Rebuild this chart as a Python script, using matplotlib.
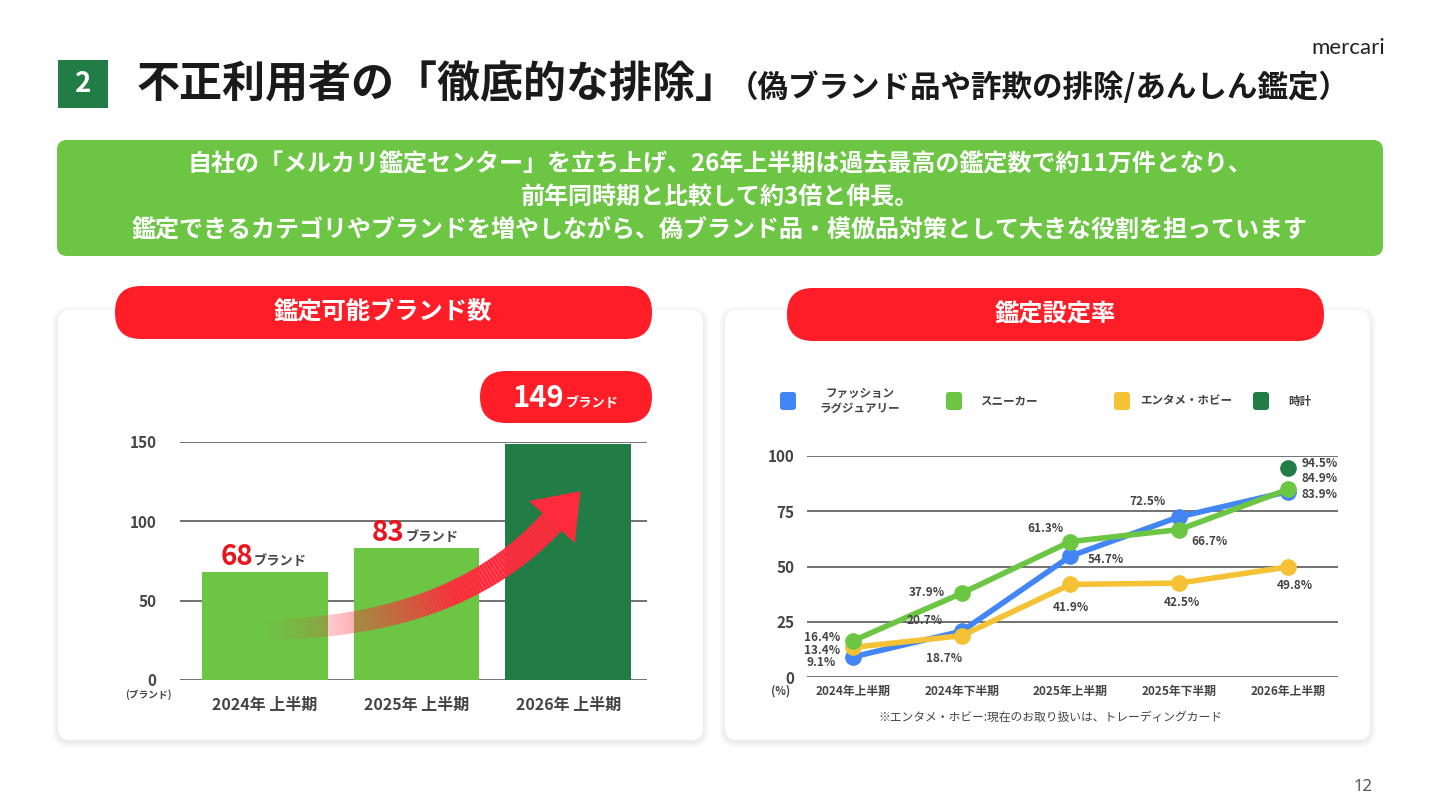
import numpy as np
import matplotlib
matplotlib.use('Agg')
import matplotlib.pyplot as plt
from matplotlib.patches import FancyBboxPatch, Polygon
from matplotlib.collections import PolyCollection

plt.rcParams['font.family'] = ['Noto Sans CJK JP', 'DejaVu Sans']

# ---- data ----
bar_periods = ['2024年 上半期', '2025年 上半期', '2026年 上半期']
brand_counts = [68, 83, 149]
bar_ticks = [0, 50, 100, 150]

line_periods = ['2024年上半期', '2024年下半期', '2025年上半期', '2025年下半期', '2026年上半期']
series_names = ['ファッション\nラグジュアリー', 'スニーカー', 'エンタメ・ホビー', '時計']
fashion = [9.1, 20.7, 54.7, 72.5, 83.9]
sneaker = [16.4, 37.9, 61.3, 66.7, 84.9]
hobby = [13.4, 18.7, 41.9, 42.5, 49.8]
watch = [np.nan, np.nan, np.nan, np.nan, 94.5]
line_ticks = [0, 25, 50, 75, 100]

# colours
GREEN = '#6CC644'
DKGREEN = '#217C45'
RED = '#FF1E28'
BLUE = '#4285F4'
YELLOW = '#F4C234'
TXT = '#444444'

fig = plt.figure(figsize=(14.4, 8.1), dpi=100)
bg = fig.add_axes([0, 0, 1, 1])
bg.set_xlim(0, 1440)
bg.set_ylim(810, 0)
bg.axis('off')


def rbox(x0, y0, x1, y1, r, color, alpha=1.0, z=1):
    p = FancyBboxPatch((x0, y0), x1 - x0, y1 - y0,
                       boxstyle=f"round,pad=0,rounding_size={r}",
                       fc=color, ec='none', alpha=alpha, zorder=z)
    bg.add_patch(p)


# header
bg.add_patch(plt.Rectangle((58, 60), 50, 48, fc=DKGREEN, ec='none'))
bg.text(83, 84, '2', color='white', fontsize=20, fontweight='bold', ha='center', va='center')
bg.text(137, 84, '不正利用者の「徹底的な排除」', fontsize=31, fontweight='bold',
        color='#1a1a1a', ha='left', va='center')
bg.text(728, 88, '（偽ブランド品や詐欺の排除/あんしん鑑定）', fontsize=22, fontweight='bold',
        color='#1a1a1a', ha='left', va='center')
bg.text(1385, 48, 'mercari', fontsize=16, color='#222222', ha='right', va='center',
        family=['Lato', 'DejaVu Sans'])

# summary box
rbox(57, 140, 1383, 256, 10, GREEN)
summary = ['自社の「メルカリ鑑定センター」を立ち上げ、26年上半期は過去最高の鑑定数で約11万件となり、',
           '前年同時期と比較して約3倍と伸長。',
           '鑑定できるカテゴリやブランドを増やしながら、偽ブランド品・模倣品対策として大きな役割を担っています']
for i, line in enumerate(summary):
    bg.text(720, 164 + 33 * i, line, fontsize=17.3, fontweight='bold', color='white',
            ha='center', va='center')

# cards with soft shadow
for (cx0, cx1) in [(58, 703), (725, 1370)]:
    for k in range(1, 7):
        rbox(cx0 - k, 310 - k + 2, cx1 + k, 740 + k + 2, 12 + k, 'black', alpha=0.012, z=1)
    rbox(cx0, 310, cx1, 740, 12, 'white', z=2)

# red pill headers
rbox(115, 286, 652, 339, 26, RED, z=3)
bg.text(383, 312, '鑑定可能ブランド数', fontsize=17.5, fontweight='bold', color='white',
        ha='center', va='center', zorder=4)
rbox(787, 288, 1324, 341, 26, RED, z=3)
bg.text(1055, 315, '鑑定設定率', fontsize=17.5, fontweight='bold', color='white',
        ha='center', va='center', zorder=4)

# ---- bar chart ----
ax1 = fig.add_axes([180 / 1440, 1 - 680 / 810, (647 - 180) / 1440, (680 - 442) / 810])
ax1.set_facecolor('none')
x1 = np.arange(len(bar_periods))
bar_colors = [GREEN, GREEN, DKGREEN]
ax1.bar(x1, brand_counts, width=0.83, color=bar_colors, zorder=3)
ax1.set_yticks(bar_ticks)
ax1.set_yticklabels([str(t) for t in bar_ticks], fontsize=11, fontweight='bold', color=TXT)
ax1.set_xticks(x1)
ax1.set_xticklabels(bar_periods, fontsize=11.5, fontweight='bold', color=TXT)
ax1.tick_params(axis='y', length=0, pad=17)
ax1.tick_params(axis='x', length=0, pad=12)
ax1.yaxis.grid(True, color='#666666', lw=1.3)
ax1.set_axisbelow(True)
for s in ax1.spines.values():
    s.set_visible(False)

for i in range(2):
    ax1.annotate(str(brand_counts[i]), xy=(x1[i], brand_counts[i]), xytext=(-12, 7),
                 textcoords='offset pixels', ha='right', va='baseline',
                 fontsize=20, fontweight='bold', color='#E8141E', zorder=6)
    ax1.annotate('ブランド', xy=(x1[i], brand_counts[i]), xytext=(-11, 7),
                 textcoords='offset pixels', ha='left', va='baseline',
                 fontsize=9.5, fontweight='bold', color=TXT, zorder=6)

# highlight pill for the last value
rbox(480, 371, 652, 423, 26, RED, z=3)
bg.text(564, 407, str(brand_counts[2]), fontsize=21, fontweight='bold', color='white',
        ha='right', va='baseline', zorder=4)
bg.text(566, 407, 'ブランド', fontsize=9.5, fontweight='bold', color='white',
        ha='left', va='baseline', zorder=4)
bg.text(148, 695, '(ブランド)', fontsize=7, fontweight='bold', color=TXT, ha='center', va='center')

# gradient growth arrow (pixel coordinates of the figure)
P = np.array([[262, 630], [380, 628], [480, 600], [552, 522]], dtype=float)
t = np.linspace(0, 1, 90)[:, None]
pts = ((1 - t) ** 3 * P[0] + 3 * (1 - t) ** 2 * t * P[1] + 3 * (1 - t) * t ** 2 * P[2] + t ** 3 * P[3])
der = (3 * (1 - t) ** 2 * (P[1] - P[0]) + 6 * (1 - t) * t * (P[2] - P[1]) + 3 * t ** 2 * (P[3] - P[2]))
nrm = np.column_stack([-der[:, 1], der[:, 0]])
nrm /= np.linalg.norm(nrm, axis=1)[:, None]
w = (10 + 3 * t)
L = pts + nrm * w
R = pts - nrm * w
polys = [[L[i], L[i + 1], R[i + 1], R[i]] for i in range(len(pts) - 1)]
alph = np.clip(t[:-1, 0] / 0.6, 0, 1) ** 1.2
cols = [(1.0, 0.17, 0.24, a) for a in alph]
pc = PolyCollection(polys, facecolors=cols, edgecolors='none', transform=bg.transData,
                    clip_on=False, zorder=5)
ax1.add_collection(pc, autolim=False)
d = der[-1] / np.linalg.norm(der[-1])
n_end = nrm[-1]
base = pts[-1]
tip = base + d * 42
head = Polygon([tip, base + n_end * 31, base - n_end * 31], closed=True, fc=(1.0, 0.17, 0.24),
               ec='none', transform=bg.transData, clip_on=False, zorder=5)
ax1.add_patch(head)
ax1.set_xlim(-0.56, 2.52)
ax1.set_ylim(0, 150)

# ---- line chart ----
ax2 = fig.add_axes([807 / 1440, 1 - 677 / 810, (1338 - 807) / 1440, (677 - 456) / 810])
ax2.set_facecolor('none')
x2 = np.arange(len(line_periods))
series = [fashion, hobby, sneaker, watch]
s_colors = [BLUE, YELLOW, GREEN, DKGREEN]
for vals, c in zip(series, s_colors):
    ax2.plot(x2, vals, color=c, lw=4, marker='o', markersize=11, clip_on=False, zorder=3,
             solid_capstyle='round')
ax2.set_xlim(-0.423, 4.46)
ax2.set_ylim(0, 100)
ax2.set_yticks(line_ticks)
ax2.set_yticklabels([str(t) for t in line_ticks], fontsize=11, fontweight='bold', color=TXT)
ax2.set_xticks(x2)
ax2.set_xticklabels(line_periods, fontsize=8.5, fontweight='bold', color=TXT)
ax2.tick_params(axis='y', length=0, pad=9)
ax2.tick_params(axis='x', length=0, pad=6)
ax2.yaxis.grid(True, color='#666666', lw=1.3)
ax2.set_axisbelow(True)
for s in ax2.spines.values():
    s.set_visible(False)

# value labels: (series, index, dx, dy, ha) offsets in pixels
label_layout = [
    (sneaker, 0, -13, 3, 'right'), (hobby, 0, -13, -3, 'right'), (fashion, 0, -17, -6, 'right'),
    (sneaker, 1, -17, 1, 'right'), (fashion, 1, -19, 11, 'right'), (hobby, 1, -18, -23, 'center'),
    (sneaker, 2, -25, 13, 'center'), (fashion, 2, 35, -3, 'center'), (hobby, 2, 0, -23, 'center'),
    (fashion, 3, -32, 15, 'center'), (sneaker, 3, 30, -12, 'center'), (hobby, 3, 3, -19, 'center'),
    (watch, 4, 14, 5, 'left'), (sneaker, 4, 14, 11, 'left'), (fashion, 4, 14, -3, 'left'),
    (hobby, 4, 7, -19, 'center'),
]
for vals, i, dx, dy, ha in label_layout:
    ax2.annotate(f'{vals[i]:.1f}%', xy=(x2[i], vals[i]), xytext=(dx, dy),
                 textcoords='offset pixels', ha=ha, va='center', fontsize=8.5,
                 fontweight='bold', color=TXT, zorder=6)

bg.text(781, 691, '(%)', fontsize=8, fontweight='bold', color=TXT, ha='center', va='center')
bg.text(1050, 717, '※エンタメ・ホビー:現在のお取り扱いは、トレーディングカード', fontsize=8.5,
        color=TXT, ha='center', va='center')

# legend
leg_sq_x = [788, 954, 1122, 1261]
leg_colors = [BLUE, GREEN, YELLOW, DKGREEN]
leg_txt_x = [860, 980, 1140, 1288]
leg_ha = ['center', 'left', 'left', 'left']
for name, sx, c, tx, ha in zip(series_names, leg_sq_x, leg_colors, leg_txt_x, leg_ha):
    rbox(sx - 8, 392, sx + 8, 410, 3, c, z=3)
    bg.text(tx, 401, name, fontsize=8.3, fontweight='bold', color=TXT, ha=ha, va='center',
            linespacing=1.15, zorder=4)

# page number
bg.text(1363, 787, '12', fontsize=12, color='#555555', ha='center', va='center',
        family=['Noto Sans', 'DejaVu Sans'])

fig.savefig('out.png', dpi=100)
